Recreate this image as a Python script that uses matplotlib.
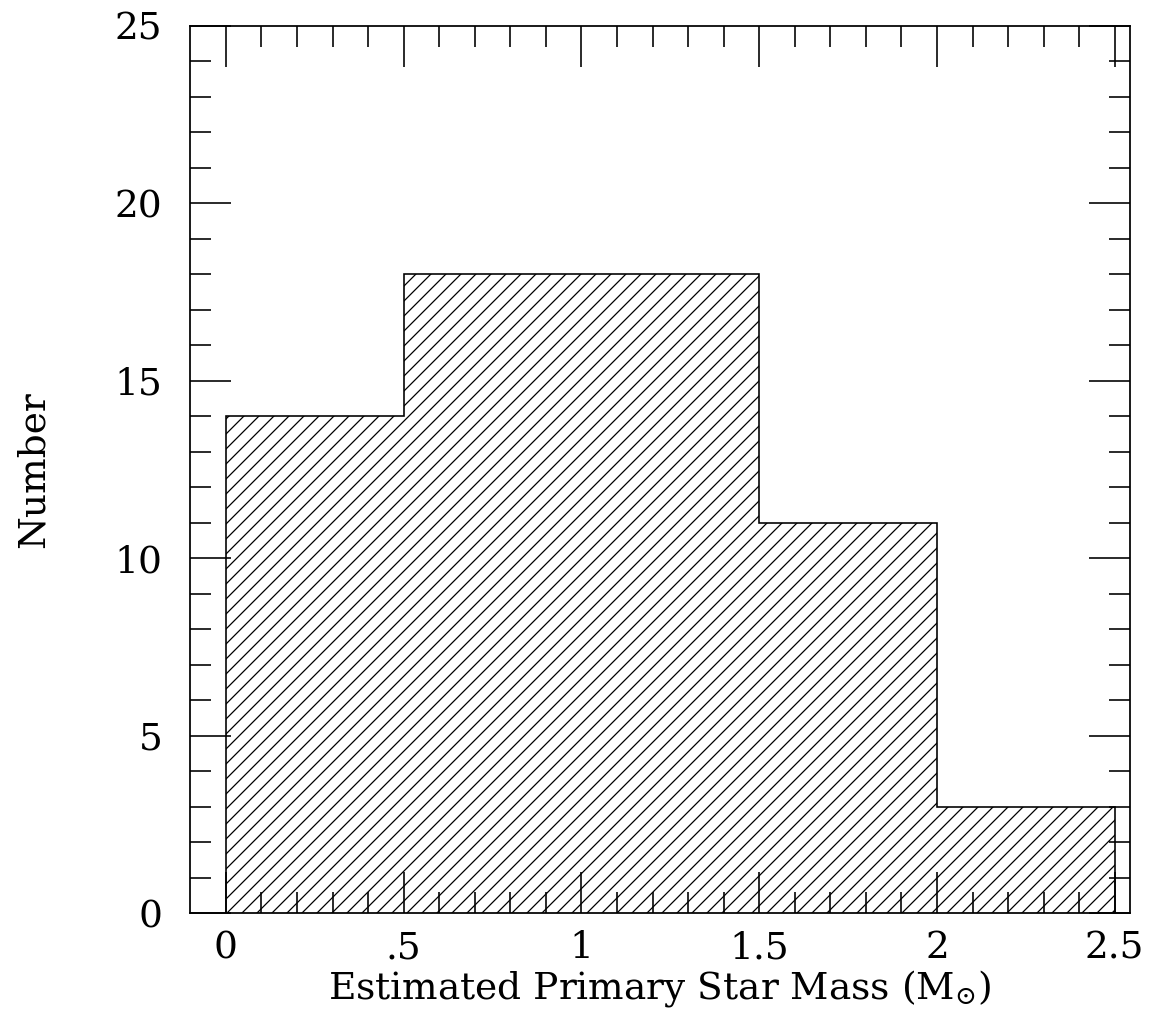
import numpy as np
import matplotlib
matplotlib.use('Agg')
import matplotlib.pyplot as plt

# histogram of primary star masses
edges = [0.0, 0.5, 1.0, 1.5, 2.0, 2.5]
counts = [14, 18, 18, 11, 3]

xticks = [0, 0.5, 1, 1.5, 2, 2.5]
xticklabels = ['0', '.5', '1', '1.5', '2', '2.5']
yticks = [0, 5, 10, 15, 20, 25]

plt.rcParams['font.family'] = ['DejaVu Serif', 'DejaVu Sans']
plt.rcParams['mathtext.fontset'] = 'dejavuserif'
plt.rcParams['hatch.linewidth'] = 1.0

dpi = 90
fig = plt.figure(figsize=(1153/dpi, 1025/dpi), dpi=dpi)
ax = fig.add_axes([190/1153, 112/1025, 940/1153, 887/1025])

ax.stairs(counts, edges, baseline=0, fill=True, facecolor='none',
          edgecolor='black', hatch='//', linewidth=1.3)

ax.set_xlim(-0.101, 2.543)
ax.set_ylim(0, 25)

ax.set_xticks(xticks)
ax.set_xticklabels(xticklabels)
ax.set_xticks(np.arange(0, 2.55, 0.1), minor=True)
ax.set_yticks(yticks)
ax.set_yticks(np.arange(0, 26, 1), minor=True)

ax.tick_params(which='both', direction='in', top=True, right=True,
               width=1.3, labelsize=30, color='black')
ax.tick_params(which='major', length=33)
ax.tick_params(which='minor', length=17)
ax.tick_params(axis='x', which='major', pad=14)
ax.tick_params(axis='y', which='major', pad=22)

for s in ax.spines.values():
    s.set_linewidth(1.4)

ax.set_xlabel(r'Estimated Primary Star Mass (M$_{\odot}$)', fontsize=30, labelpad=1)
ax.set_ylabel('Number', fontsize=30, labelpad=50)

fig.savefig('out.png', dpi=dpi)
